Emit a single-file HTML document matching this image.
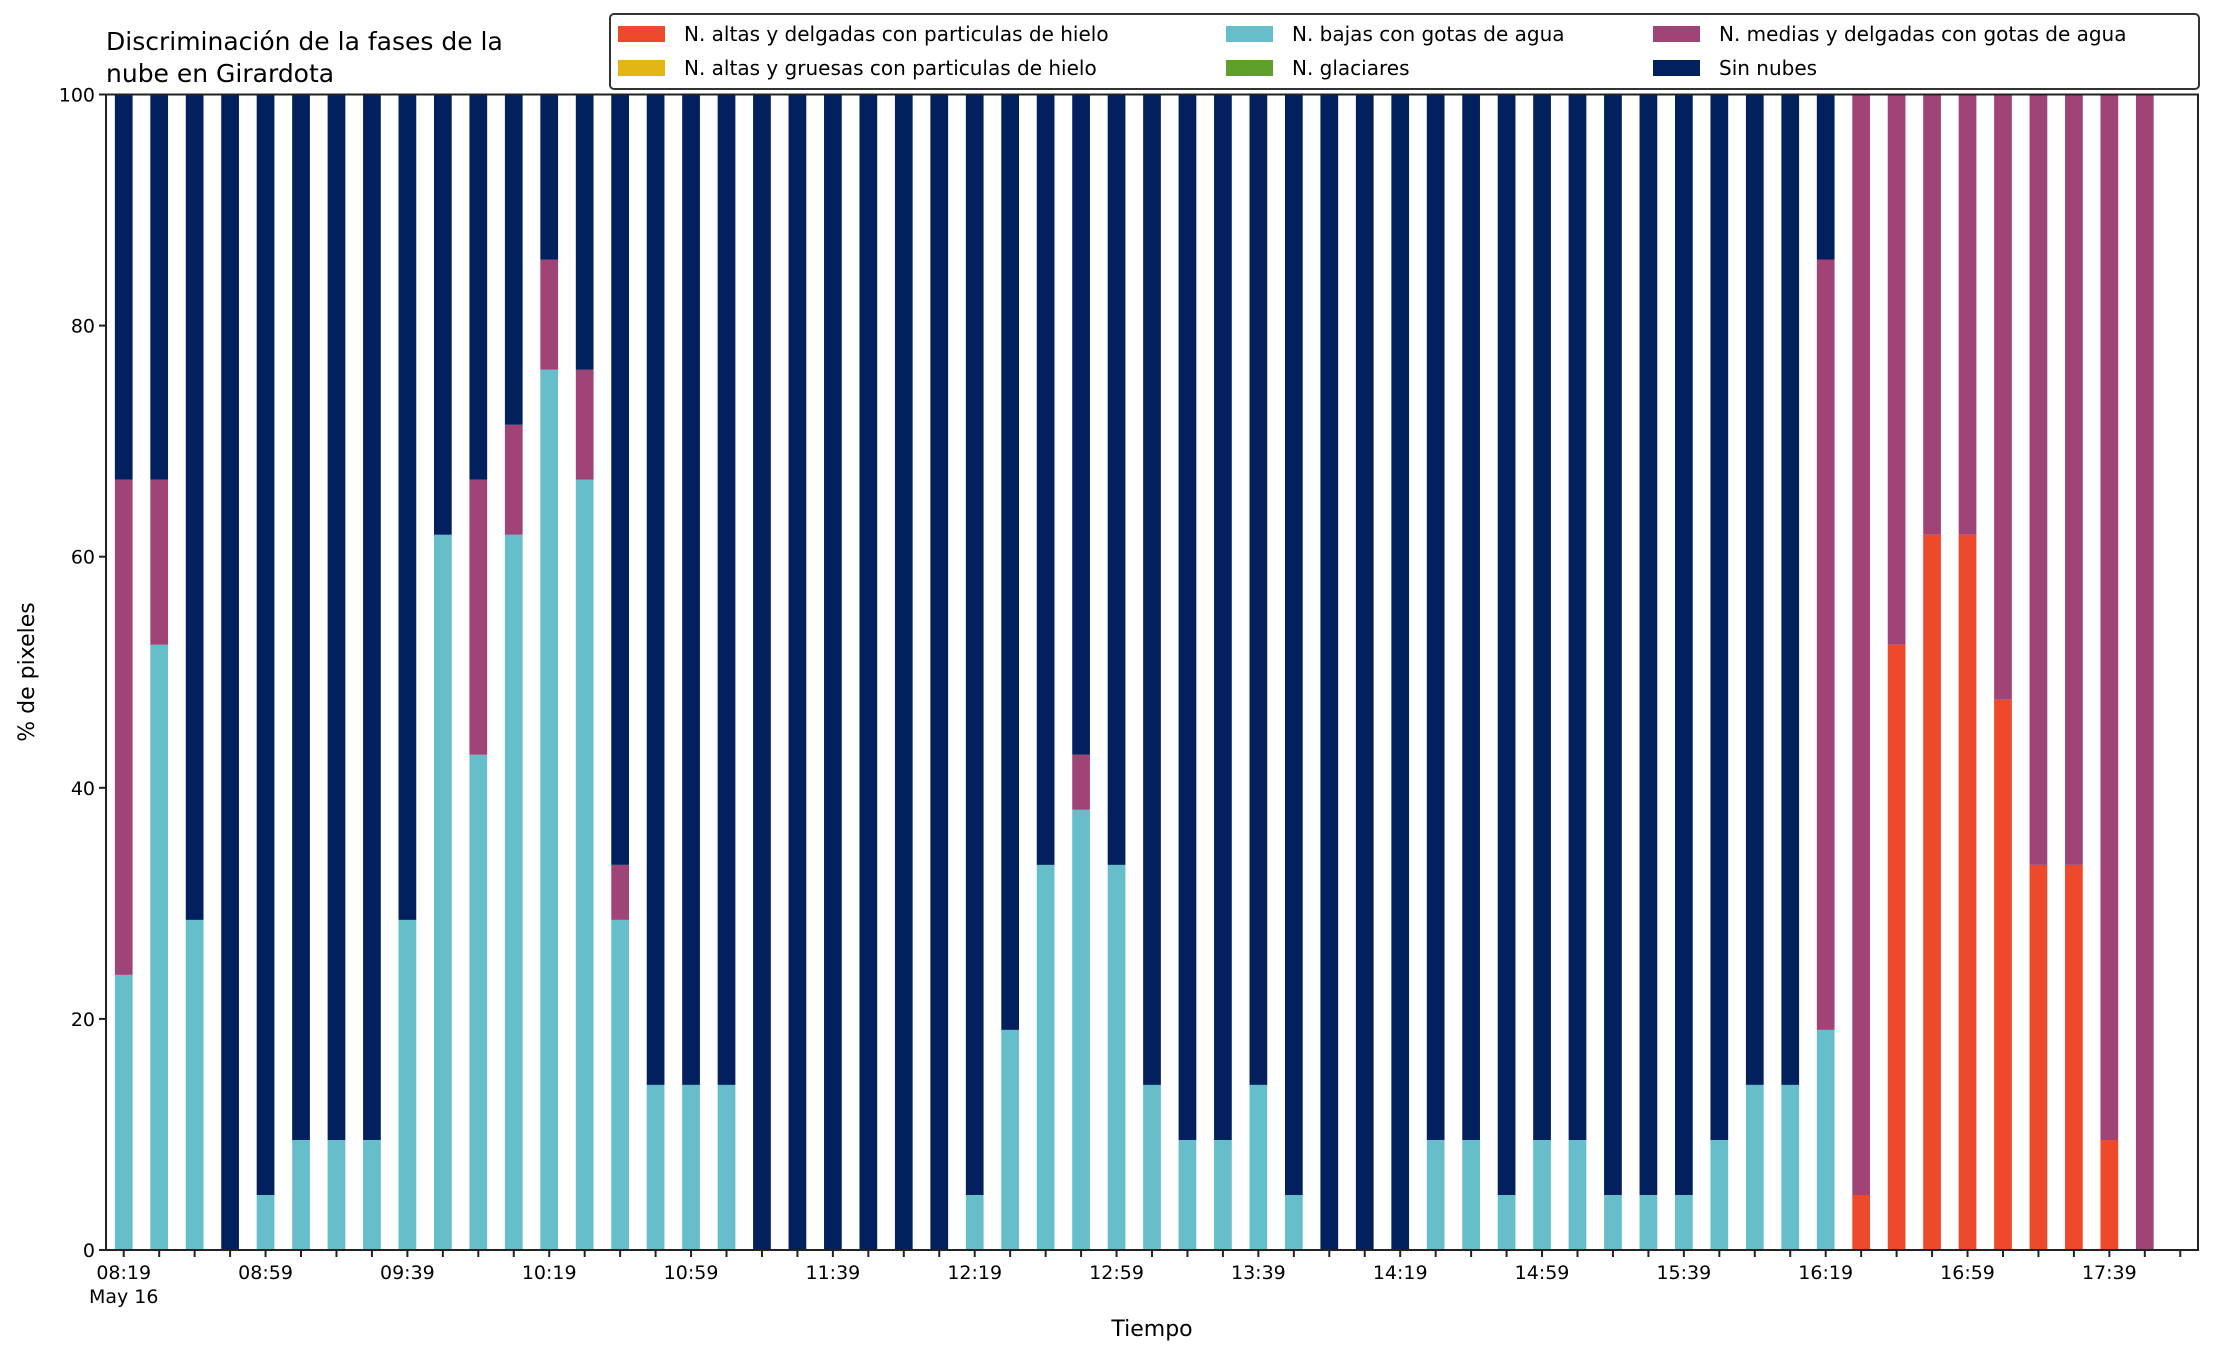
<!DOCTYPE html>
<html><head><meta charset="utf-8"><style>
html,body{margin:0;padding:0;background:#fff;}
svg{display:block;font-family:"DejaVu Sans","Liberation Sans",sans-serif;}
</style></head><body>
<svg id="chart" width="2216" height="1355" viewBox="0 0 2216 1355" xmlns="http://www.w3.org/2000/svg">
<rect width="2216" height="1355" fill="#fff"/>
<text x="106" y="50" font-size="25" fill="#000">Discriminación de la fases de la</text>
<text x="106" y="82" font-size="25" fill="#000">nube en Girardota</text>
<g id="bars"></g>
<g id="axes"></g>
<text x="1152" y="1336" font-size="22" text-anchor="middle">Tiempo</text>
<text x="0" y="0" font-size="22" text-anchor="middle" transform="translate(34,672) rotate(-90)">% de pixeles</text>
<g id="legend"></g>
</svg>
<script>
const times = [];
for (let i = 0; i < 59; i++) { const m = 8*60+19+i*10; times.push(String(Math.floor(m/60)).padStart(2,'0')+':'+String(m%60).padStart(2,'0')); }
const redVals = [0,0,0,0,0,0,0,0,0,0,0,0,0,0,0,0,0,0,0,0,0,0,0,0,0,0,0,0,0,0,0,0,0,0,0,0,0,0,0,0,0,0,0,0,0,0,0,0,0,4.76,52.38,61.9,61.9,47.62,33.33,33.33,9.52,0,0];
const yellowVals = new Array(59).fill(0);
const cyanVals = [23.81,52.38,28.57,0,4.76,9.52,9.52,9.52,28.57,61.9,42.86,61.9,76.19,66.67,28.57,14.29,14.29,14.29,0,0,0,0,0,0,4.76,19.05,33.33,38.1,33.33,14.29,9.52,9.52,14.29,4.76,0,0,0,9.52,9.52,4.76,9.52,9.52,4.76,4.76,4.76,9.52,14.29,14.29,19.05,0,0,0,0,0,0,0,0,0,0];
const greenVals = new Array(59).fill(0);
const purpleVals = [42.86,14.29,0,0,0,0,0,0,0,0,23.81,9.52,9.52,9.52,4.76,0,0,0,0,0,0,0,0,0,0,0,0,4.76,0,0,0,0,0,0,0,0,0,0,0,0,0,0,0,0,0,0,0,0,66.67,95.24,47.62,38.1,38.1,52.38,66.67,66.67,90.48,100,0];
const navyVals = redVals.map((r,i)=> i===58 ? 0 : Math.max(0, 100 - r - yellowVals[i] - cyanVals[i] - greenVals[i] - purpleVals[i]));
const seriesNames = ["N. altas y delgadas con particulas de hielo","N. altas y gruesas con particulas de hielo","N. bajas con gotas de agua","N. glaciares","N. medias y delgadas con gotas de agua","Sin nubes"];
const yTicks = [0,20,40,60,80,100];

const NS = "http://www.w3.org/2000/svg";
const L=106, R=2198, T=94.5, B=1250;
const n = times.length;
const step = (R-L)/n;
const xScale = i => L + (i+0.5)*step;
const yScale = v => B - v*(B-T)/100;
const colors = ["#EE492B","#E3B615","#65BEC9","#5FA02A","#A04376","#02205E"];
const series = [redVals,yellowVals,cyanVals,greenVals,purpleVals,navyVals];
const keys = ["red","yellow","cyan","green","purple","navy"];
function mk(tag, attrs, parent){ const e=document.createElementNS(NS,tag); for(const k in attrs) e.setAttribute(k,attrs[k]); parent.appendChild(e); return e; }
const gb = document.getElementById('bars');
const bw = step*0.5;
for (let i=0;i<n;i++){
  let base=0;
  for (let s=0;s<series.length;s++){
    const v=series[s][i];
    if(v>0){
      const r=mk('rect',{x:xScale(i)-bw/2,y:yScale(base+v),width:bw,height:yScale(base)-yScale(base+v),fill:colors[s]},gb);
      
      
    }
    base+=v;
  }
}
const ga = document.getElementById('axes');
for (let i=0;i<n;i++){
  const t=mk('line',{x1:xScale(i),x2:xScale(i),y1:B,y2:B+7,stroke:'#222','stroke-width':2},ga);
  
  
  if(i%4===0){
    const tx=mk('text',{x:xScale(i),y:1279,'font-size':19,'text-anchor':'middle'},ga);
    tx.textContent=times[i];
    
    
  }
}
const may=mk('text',{x:xScale(0),y:1303,'font-size':19,'text-anchor':'middle'},ga);
may.textContent='May 16';


yTicks.forEach(v=>{
  const t=mk('line',{x1:L-7,x2:L,y1:yScale(v),y2:yScale(v),stroke:'#222','stroke-width':2},ga);
  
  
  const tx=mk('text',{x:L-11,y:yScale(v)+7,'font-size':19,'text-anchor':'end'},ga);
  tx.textContent=String(v);
  
  
});
const frame=mk('rect',{x:L,y:T,width:R-L,height:B-T,fill:'none',stroke:'#222','stroke-width':2},ga);


const gl=document.getElementById('legend');
const box=mk('rect',{x:610,y:14,width:1589,height:75,rx:4,fill:'#fff',stroke:'#333','stroke-width':2},gl);


const colX=[618,1226,1653];
for(let s=0;s<6;s++){
  const c=Math.floor(s/2), r=s%2;
  const y=r===0?34:68;
  const g=mk('g',{},gl);
  
  
  mk('rect',{x:colX[c],y:y-8,width:47,height:16,fill:colors[s]},g);
  const tx=mk('text',{x:colX[c]+66,y:y+7,'font-size':20},g);
  tx.textContent=seriesNames[s];
}
</script>
</body></html>
